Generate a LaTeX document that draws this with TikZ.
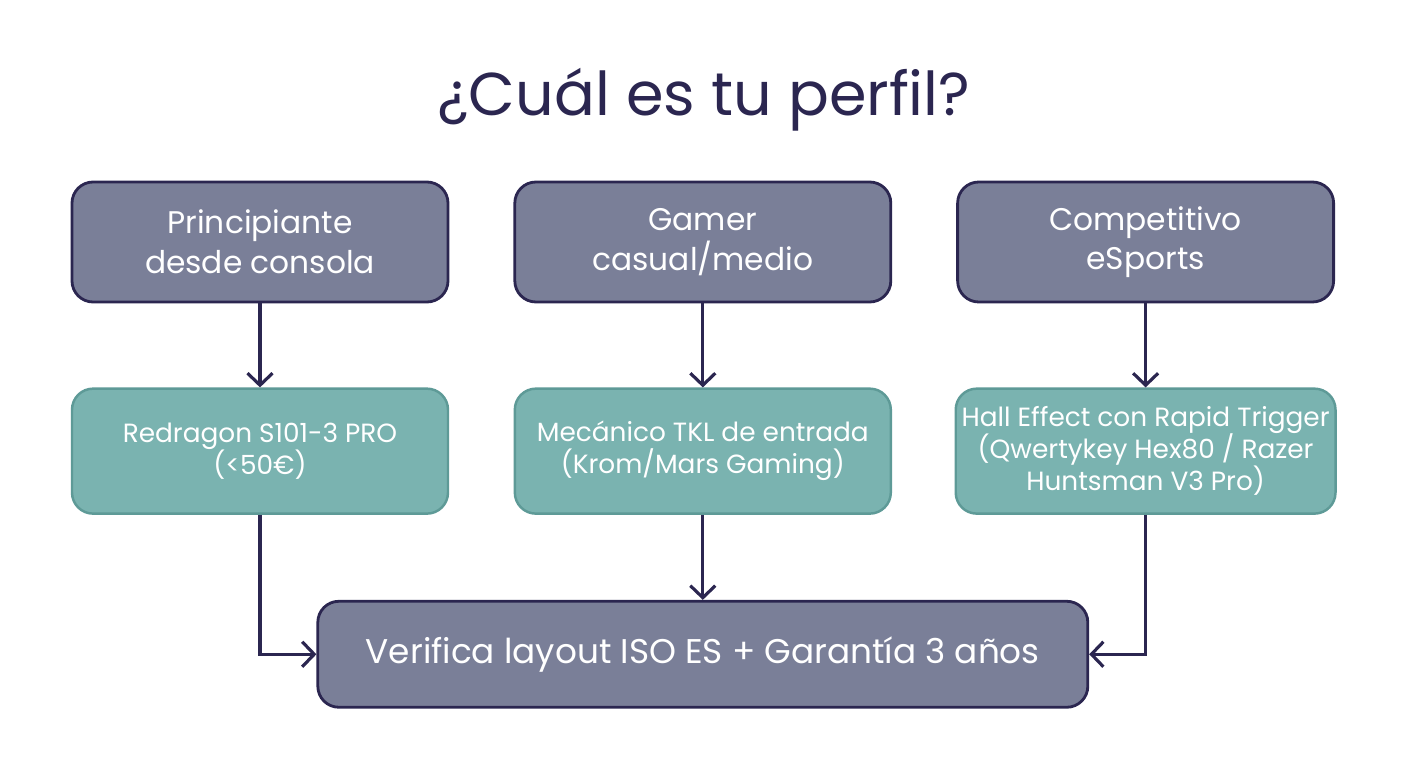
\documentclass[tikz,border=0pt]{standalone}
\usepackage{fontspec}
\setmainfont{Poppins}
\usetikzlibrary{arrows.meta, positioning}

\definecolor{navy}{HTML}{2B2650}
\definecolor{slate}{HTML}{7A7F98}
\definecolor{teal}{HTML}{7AB3B0}
\definecolor{tealdark}{HTML}{5E9A97}

\begin{document}
\begin{tikzpicture}[
    node distance=1.68cm and 1.28cm,
    profile/.style={
        draw=navy,
        line width=1.6pt,
        rounded corners=12pt,
        minimum width=7.52cm,
        minimum height=2.4cm,
        align=center,
        text=white,
        font=\fontsize{17.8}{22.5}\selectfont,
        fill=slate
    },
    pick/.style={
        draw=tealdark,
        line width=1.4pt,
        rounded corners=12pt,
        minimum width=7.52cm,
        minimum height=2.5cm,
        align=center,
        text=white,
        font=\fontsize{15}{18.2}\selectfont,
        fill=teal
    },
    arrow/.style={
        -{Straight Barb[length=2.4mm,width=5mm]},
        draw=navy,
        line width=1.8pt
    }
]
\useasboundingbox (0,0) rectangle (28.16,-15.36);

% Título
\node[text=navy, font=\fontsize{34.4}{40}\selectfont] (title) at (14.08,-2.0) {¿Cuál es tu perfil?};

% Perfiles
\node[profile] (novice) at (5.2,-4.84) {Principiante\\desde consola};
\node[profile, right=of novice] (casual) {Gamer\\casual/medio};
\node[profile, right=of casual] (esports) {Competitivo\\eSports};

% Teclados
\node[pick, below=of novice] (redragon) {Redragon S101-3 PRO\\(<50€)};
\node[pick, below=of casual] (tkl) {Mecánico TKL de entrada\\(Krom/Mars Gaming)};
\node[pick, below=of esports] (hall) {Hall Effect con Rapid Trigger\\(Qwertykey Hex80 / Razer\\Huntsman V3 Pro)};

% Comprobación final
\node[profile, below=1.7cm of tkl, minimum width=15.4cm, minimum height=2.12cm,
      font=\fontsize{19.5}{23}\selectfont] (check) {Verifica layout ISO ES + Garantía 3 años};

% Flechas
\draw[arrow] (novice) -- (redragon);
\draw[arrow] (casual) -- (tkl);
\draw[arrow] (esports) -- (hall);
\draw[arrow] (tkl) -- (check);
\draw[arrow] (redragon.south) |- (check.west);
\draw[arrow] (hall.south) |- (check.east);

\end{tikzpicture}
\end{document}
